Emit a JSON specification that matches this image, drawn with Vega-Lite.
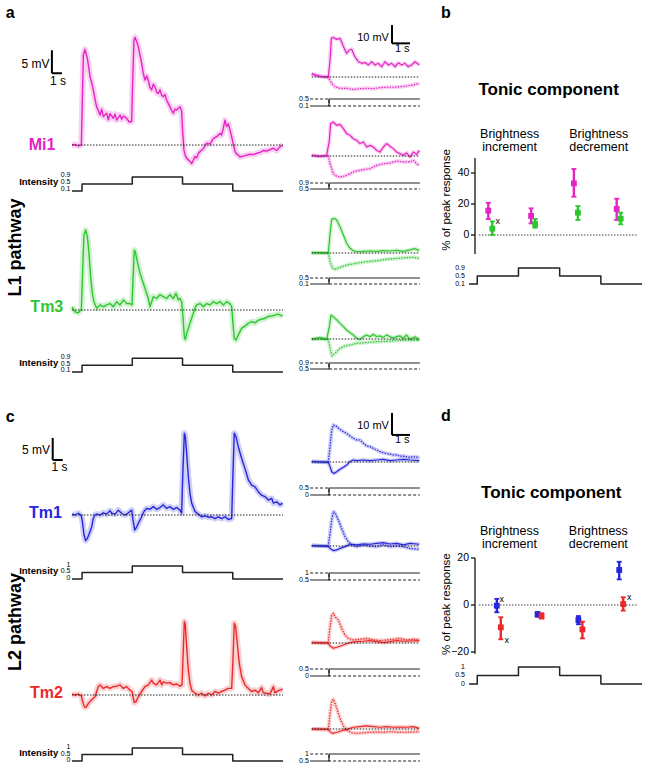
{
"$schema":"https://vega.github.io/schema/vega-lite/v6.json",
"padding":0,
"background":"white",
"config":{"view":{"stroke":null},"font":"Liberation Sans","mark":{"color":"#000"},"text":{"color":"#000"},"line":{"strokeJoin":"round","strokeCap":"butt"},"axis":{"disable":true},"concat":{"spacing":0}},
"datasets":{
"Mi1":[{"t":0,"mV":0},{"t":0.3,"mV":0.1},{"t":0.63,"mV":-0.2},{"t":0.93,"mV":0},{"t":1.03,"mV":10},{"t":1.13,"mV":19.5},{"t":1.29,"mV":20.8},{"t":1.53,"mV":18.8},{"t":1.66,"mV":17},{"t":1.79,"mV":14.9},{"t":1.96,"mV":13.5},{"t":2.12,"mV":12},{"t":2.29,"mV":10},{"t":2.45,"mV":8.3},{"t":2.62,"mV":7.5},{"t":2.79,"mV":6.5},{"t":2.95,"mV":7.8},{"t":3.12,"mV":6.2},{"t":3.45,"mV":6.9},{"t":3.62,"mV":5.5},{"t":3.78,"mV":6.8},{"t":4.11,"mV":5.8},{"t":4.28,"mV":6.7},{"t":4.44,"mV":5.4},{"t":4.78,"mV":6.5},{"t":4.94,"mV":5.6},{"t":5.11,"mV":6.3},{"t":5.44,"mV":5.8},{"t":5.7,"mV":5},{"t":5.94,"mV":5.1},{"t":6.04,"mV":14},{"t":6.17,"mV":22.8},{"t":6.27,"mV":23.4},{"t":6.43,"mV":22.5},{"t":6.6,"mV":21.4},{"t":6.77,"mV":19.5},{"t":6.93,"mV":17.8},{"t":7.1,"mV":15.5},{"t":7.26,"mV":14.1},{"t":7.43,"mV":15},{"t":7.6,"mV":14},{"t":7.76,"mV":12.5},{"t":7.93,"mV":12},{"t":8.09,"mV":13.2},{"t":8.26,"mV":12.7},{"t":8.42,"mV":11.5},{"t":8.59,"mV":11.2},{"t":8.76,"mV":12},{"t":8.92,"mV":10.8},{"t":9.09,"mV":10.5},{"t":9.25,"mV":11},{"t":9.42,"mV":9.8},{"t":9.59,"mV":9},{"t":9.75,"mV":8.3},{"t":9.92,"mV":7.5},{"t":10.08,"mV":6.9},{"t":10.25,"mV":7.8},{"t":10.41,"mV":7.6},{"t":10.58,"mV":8},{"t":10.75,"mV":8.3},{"t":10.91,"mV":7.4},{"t":11.01,"mV":3},{"t":11.14,"mV":-1.1},{"t":11.28,"mV":-2.3},{"t":11.41,"mV":-2.9},{"t":11.58,"mV":-3.2},{"t":11.74,"mV":-3.6},{"t":11.91,"mV":-4},{"t":12.07,"mV":-3.3},{"t":12.24,"mV":-2.5},{"t":12.4,"mV":-2.8},{"t":12.57,"mV":-1.9},{"t":12.74,"mV":-1.4},{"t":13.07,"mV":-0.8},{"t":13.4,"mV":0.4},{"t":13.73,"mV":0.2},{"t":14.06,"mV":1.4},{"t":14.39,"mV":1.8},{"t":14.73,"mV":2.5},{"t":14.89,"mV":2.2},{"t":15.06,"mV":3.6},{"t":15.22,"mV":5.4},{"t":15.39,"mV":4},{"t":15.56,"mV":4.6},{"t":15.72,"mV":3.3},{"t":15.89,"mV":1.8},{"t":16.02,"mV":0.5},{"t":16.22,"mV":-1.4},{"t":16.39,"mV":-2},{"t":16.55,"mV":-2.2},{"t":16.72,"mV":-2.6},{"t":17.05,"mV":-2.4},{"t":17.38,"mV":-2.2},{"t":17.71,"mV":-2},{"t":18.04,"mV":-2.1},{"t":18.37,"mV":-1.8},{"t":18.71,"mV":-1.6},{"t":19.04,"mV":-1.2},{"t":19.37,"mV":-1.3},{"t":19.7,"mV":-1},{"t":20.04,"mV":-0.7},{"t":20.37,"mV":-1.2},{"t":20.7,"mV":-0.4},{"t":20.96,"mV":0}],
"Tm3":[{"t":0,"mV":0.7},{"t":0.3,"mV":-0.4},{"t":0.63,"mV":-0.6},{"t":0.93,"mV":0.1},{"t":1.06,"mV":8.7},{"t":1.19,"mV":16.3},{"t":1.36,"mV":17.4},{"t":1.53,"mV":15.9},{"t":1.69,"mV":12.3},{"t":1.86,"mV":7.2},{"t":2.02,"mV":3.6},{"t":2.19,"mV":1.8},{"t":2.45,"mV":0.4},{"t":2.79,"mV":1.1},{"t":3.12,"mV":0.7},{"t":3.45,"mV":1.1},{"t":3.78,"mV":1.4},{"t":4.11,"mV":0.7},{"t":4.44,"mV":1.8},{"t":4.78,"mV":1.1},{"t":5.11,"mV":2.2},{"t":5.44,"mV":1.4},{"t":5.77,"mV":1.4},{"t":5.97,"mV":1.1},{"t":6.07,"mV":6.5},{"t":6.2,"mV":13},{"t":6.3,"mV":12.7},{"t":6.5,"mV":10.5},{"t":6.77,"mV":8},{"t":7.1,"mV":5.8},{"t":7.43,"mV":3.6},{"t":7.6,"mV":2.5},{"t":7.76,"mV":0.7},{"t":7.93,"mV":1.8},{"t":8.09,"mV":2.9},{"t":8.42,"mV":2.5},{"t":8.76,"mV":3.3},{"t":9.09,"mV":2.9},{"t":9.42,"mV":2.5},{"t":9.75,"mV":3.3},{"t":10.08,"mV":2.5},{"t":10.35,"mV":3.6},{"t":10.58,"mV":2.2},{"t":10.75,"mV":2.5},{"t":10.91,"mV":1.8},{"t":11.04,"mV":-1.4},{"t":11.18,"mV":-5.8},{"t":11.28,"mV":-6.4},{"t":11.41,"mV":-5.1},{"t":11.74,"mV":-2.9},{"t":12.07,"mV":-0.7},{"t":12.24,"mV":0.4},{"t":12.4,"mV":1.1},{"t":12.74,"mV":1.4},{"t":13.07,"mV":0.7},{"t":13.4,"mV":1.4},{"t":13.73,"mV":1.1},{"t":14.06,"mV":1.8},{"t":14.39,"mV":1.4},{"t":14.73,"mV":1.8},{"t":15.06,"mV":1.1},{"t":15.39,"mV":1.8},{"t":15.72,"mV":1.4},{"t":15.89,"mV":0.7},{"t":16.02,"mV":-2.9},{"t":16.15,"mV":-6.2},{"t":16.32,"mV":-6.5},{"t":16.55,"mV":-5.4},{"t":16.88,"mV":-4},{"t":17.21,"mV":-3.5},{"t":17.55,"mV":-2.9},{"t":17.88,"mV":-2.5},{"t":18.21,"mV":-2.8},{"t":18.54,"mV":-2.2},{"t":18.87,"mV":-2},{"t":19.2,"mV":-1.8},{"t":19.54,"mV":-1.4},{"t":19.87,"mV":-1.3},{"t":20.2,"mV":-1.1},{"t":20.53,"mV":-0.9},{"t":20.96,"mV":-1.4}],
"Tm1":[{"t":0,"mV":0.2},{"t":0.3,"mV":0},{"t":0.63,"mV":0.4},{"t":0.93,"mV":-0.2},{"t":1.06,"mV":-1.9},{"t":1.19,"mV":-4.5},{"t":1.36,"mV":-5.8},{"t":1.53,"mV":-5.3},{"t":1.72,"mV":-4.2},{"t":1.96,"mV":-2.7},{"t":2.12,"mV":-0.8},{"t":2.29,"mV":0},{"t":2.45,"mV":0.2},{"t":2.79,"mV":0},{"t":3.12,"mV":0.5},{"t":3.45,"mV":0.2},{"t":3.78,"mV":1},{"t":3.95,"mV":0.4},{"t":4.28,"mV":0.2},{"t":4.61,"mV":1.1},{"t":4.94,"mV":0.4},{"t":5.27,"mV":0},{"t":5.61,"mV":0.5},{"t":5.94,"mV":1.1},{"t":6.07,"mV":-1.1},{"t":6.24,"mV":-3.4},{"t":6.37,"mV":-3},{"t":6.6,"mV":-1.9},{"t":6.93,"mV":-0.4},{"t":7.16,"mV":0.8},{"t":7.43,"mV":1.5},{"t":7.76,"mV":1.3},{"t":8.09,"mV":1.9},{"t":8.42,"mV":1.3},{"t":8.76,"mV":1.7},{"t":9.09,"mV":2.3},{"t":9.42,"mV":1.5},{"t":9.75,"mV":1.9},{"t":10.08,"mV":1.3},{"t":10.41,"mV":1.7},{"t":10.75,"mV":1.1},{"t":10.91,"mV":0.4},{"t":11.04,"mV":10.2},{"t":11.18,"mV":18.6},{"t":11.28,"mV":17.8},{"t":11.41,"mV":14},{"t":11.58,"mV":8.7},{"t":11.74,"mV":4.9},{"t":11.91,"mV":2.7},{"t":12.24,"mV":0.8},{"t":12.57,"mV":0.2},{"t":12.9,"mV":-0.4},{"t":13.23,"mV":-0.2},{"t":13.57,"mV":-0.5},{"t":13.9,"mV":-0.4},{"t":14.23,"mV":-0.8},{"t":14.56,"mV":-0.4},{"t":14.89,"mV":-0.8},{"t":15.22,"mV":-0.4},{"t":15.56,"mV":-1},{"t":15.89,"mV":-0.8},{"t":16.02,"mV":9.5},{"t":16.15,"mV":18.6},{"t":16.32,"mV":17.8},{"t":16.55,"mV":15.5},{"t":16.88,"mV":12.9},{"t":17.21,"mV":10.6},{"t":17.55,"mV":8},{"t":17.88,"mV":6.8},{"t":18.21,"mV":6.4},{"t":18.54,"mV":5.3},{"t":18.87,"mV":4.5},{"t":19.2,"mV":4.2},{"t":19.54,"mV":3.4},{"t":19.87,"mV":3.8},{"t":20.04,"mV":2.7},{"t":20.37,"mV":3},{"t":20.7,"mV":2.3},{"t":20.96,"mV":2.7}],
"Tm2":[{"t":0,"mV":0.2},{"t":0.3,"mV":0},{"t":0.63,"mV":0.2},{"t":0.93,"mV":-0.2},{"t":1.06,"mV":-1.5},{"t":1.23,"mV":-2.7},{"t":1.39,"mV":-2.8},{"t":1.63,"mV":-1.9},{"t":1.96,"mV":-1.1},{"t":2.29,"mV":-0.4},{"t":2.45,"mV":0.8},{"t":2.62,"mV":1.9},{"t":2.79,"mV":2.3},{"t":3.12,"mV":1.5},{"t":3.45,"mV":1.9},{"t":3.78,"mV":1.5},{"t":4.11,"mV":1.9},{"t":4.44,"mV":2},{"t":4.78,"mV":2.3},{"t":5.11,"mV":1.5},{"t":5.44,"mV":1.9},{"t":5.77,"mV":1.1},{"t":5.97,"mV":0.8},{"t":6.07,"mV":-0.4},{"t":6.2,"mV":-1.7},{"t":6.37,"mV":-1.5},{"t":6.6,"mV":-0.4},{"t":6.93,"mV":0.8},{"t":7.26,"mV":1.9},{"t":7.6,"mV":2.3},{"t":7.93,"mV":3.4},{"t":8.09,"mV":2.7},{"t":8.42,"mV":2.3},{"t":8.76,"mV":3.4},{"t":8.92,"mV":2.3},{"t":9.09,"mV":3},{"t":9.42,"mV":2.7},{"t":9.75,"mV":2.8},{"t":10.08,"mV":2.3},{"t":10.41,"mV":2.5},{"t":10.75,"mV":2},{"t":10.95,"mV":2.3},{"t":11.04,"mV":8},{"t":11.18,"mV":16.7},{"t":11.28,"mV":15.9},{"t":11.41,"mV":11},{"t":11.58,"mV":5.7},{"t":11.74,"mV":2.7},{"t":11.91,"mV":1.1},{"t":12.24,"mV":0.4},{"t":12.57,"mV":0},{"t":12.9,"mV":0.4},{"t":13.23,"mV":-0.2},{"t":13.57,"mV":0.4},{"t":13.9,"mV":0},{"t":14.23,"mV":0.8},{"t":14.56,"mV":0.4},{"t":14.89,"mV":0.8},{"t":15.22,"mV":1.1},{"t":15.56,"mV":1.5},{"t":15.89,"mV":1.5},{"t":16.02,"mV":8},{"t":16.15,"mV":16.3},{"t":16.28,"mV":15.5},{"t":16.45,"mV":11.7},{"t":16.65,"mV":7.2},{"t":16.88,"mV":4.2},{"t":17.21,"mV":2.3},{"t":17.55,"mV":1.5},{"t":17.88,"mV":0.8},{"t":18.21,"mV":1.1},{"t":18.54,"mV":0.5},{"t":18.87,"mV":1.7},{"t":19.04,"mV":0.5},{"t":19.37,"mV":0.4},{"t":19.7,"mV":0.2},{"t":20.04,"mV":1.9},{"t":20.2,"mV":0.5},{"t":20.53,"mV":1},{"t":20.96,"mV":1.3}],
"stim_a":[{"t":0,"level":0.1},{"t":1,"level":0.5},{"t":6,"level":0.9},{"t":11,"level":0.5},{"t":16,"level":0.1},{"t":21,"level":0.1}],
"stim_b":[{"t":0,"level":0},{"t":1,"level":0.5},{"t":6,"level":1},{"t":11,"level":0.5},{"t":16,"level":0},{"t":21,"level":0}],
"step_01_05":[{"stim":"increment","t":-1.05,"level":0.1},{"stim":"increment","t":0,"level":0.5},{"stim":"increment","t":5.05,"level":0.5},{"stim":"decrement","t":-1.05,"level":0.5},{"stim":"decrement","t":0,"level":0.1},{"stim":"decrement","t":5.05,"level":0.1}],
"step_05_09":[{"stim":"increment","t":-1.05,"level":0.5},{"stim":"increment","t":0,"level":0.9},{"stim":"increment","t":5.05,"level":0.9},{"stim":"decrement","t":-1.05,"level":0.9},{"stim":"decrement","t":0,"level":0.5},{"stim":"decrement","t":5.05,"level":0.5}],
"step_0_05":[{"stim":"increment","t":-1.05,"level":0},{"stim":"increment","t":0,"level":0.5},{"stim":"increment","t":5.05,"level":0.5},{"stim":"decrement","t":-1.05,"level":0.5},{"stim":"decrement","t":0,"level":0},{"stim":"decrement","t":5.05,"level":0}],
"step_05_1":[{"stim":"increment","t":-1.05,"level":0.5},{"stim":"increment","t":0,"level":1},{"stim":"increment","t":5.05,"level":1},{"stim":"decrement","t":-1.05,"level":1},{"stim":"decrement","t":0,"level":0.5},{"stim":"decrement","t":5.05,"level":0.5}],
"Mi1_low":[{"stim":"increment","t":-0.96,"mV":1.8},{"stim":"increment","t":-0.78,"mV":1},{"stim":"increment","t":-0.5,"mV":0.4},{"stim":"increment","t":-0.22,"mV":0.2},{"stim":"increment","t":-0.04,"mV":-0.2},{"stim":"increment","t":0.06,"mV":9.4},{"stim":"increment","t":0.13,"mV":21.5},{"stim":"increment","t":0.24,"mV":22},{"stim":"increment","t":0.43,"mV":20.9},{"stim":"increment","t":0.61,"mV":21.5},{"stim":"increment","t":0.7,"mV":19.6},{"stim":"increment","t":0.8,"mV":16.9},{"stim":"increment","t":0.98,"mV":13.1},{"stim":"increment","t":1.13,"mV":15},{"stim":"increment","t":1.26,"mV":15.4},{"stim":"increment","t":1.44,"mV":11.3},{"stim":"increment","t":1.63,"mV":8.5},{"stim":"increment","t":1.81,"mV":7.6},{"stim":"increment","t":2,"mV":8},{"stim":"increment","t":2.19,"mV":6.7},{"stim":"increment","t":2.37,"mV":8.5},{"stim":"increment","t":2.56,"mV":6.7},{"stim":"increment","t":2.74,"mV":7.6},{"stim":"increment","t":2.93,"mV":5.7},{"stim":"increment","t":3.11,"mV":8.5},{"stim":"increment","t":3.3,"mV":6.7},{"stim":"increment","t":3.48,"mV":7.6},{"stim":"increment","t":3.67,"mV":5.7},{"stim":"increment","t":3.85,"mV":7.9},{"stim":"increment","t":4.04,"mV":6.7},{"stim":"increment","t":4.22,"mV":7.6},{"stim":"increment","t":4.41,"mV":5.7},{"stim":"increment","t":4.59,"mV":6.7},{"stim":"increment","t":4.78,"mV":8.5},{"stim":"increment","t":5.02,"mV":6.7},{"stim":"decrement","t":-0.96,"mV":1.8},{"stim":"decrement","t":-0.5,"mV":0.4},{"stim":"decrement","t":-0.04,"mV":-0.2},{"stim":"decrement","t":0.15,"mV":-3.5},{"stim":"decrement","t":0.33,"mV":-5.4},{"stim":"decrement","t":0.61,"mV":-6.3},{"stim":"decrement","t":0.98,"mV":-6.3},{"stim":"decrement","t":1.35,"mV":-6.9},{"stim":"decrement","t":1.72,"mV":-6.5},{"stim":"decrement","t":2.09,"mV":-6.3},{"stim":"decrement","t":2.46,"mV":-6.5},{"stim":"decrement","t":2.83,"mV":-5.9},{"stim":"decrement","t":3.2,"mV":-5.7},{"stim":"decrement","t":3.57,"mV":-5.7},{"stim":"decrement","t":3.94,"mV":-5.4},{"stim":"decrement","t":4.31,"mV":-5},{"stim":"decrement","t":4.69,"mV":-4.4},{"stim":"decrement","t":5.02,"mV":-3.5}],
"Mi1_high":[{"stim":"increment","t":-0.96,"mV":0.4},{"stim":"increment","t":-0.5,"mV":-0.2},{"stim":"increment","t":-0.13,"mV":0.4},{"stim":"increment","t":0.02,"mV":8.7},{"stim":"increment","t":0.09,"mV":18},{"stim":"increment","t":0.24,"mV":18.9},{"stim":"increment","t":0.43,"mV":17},{"stim":"increment","t":0.61,"mV":17.6},{"stim":"increment","t":0.8,"mV":15.2},{"stim":"increment","t":0.98,"mV":12.4},{"stim":"increment","t":1.17,"mV":11.5},{"stim":"increment","t":1.35,"mV":9.6},{"stim":"increment","t":1.54,"mV":8.7},{"stim":"increment","t":1.72,"mV":6.9},{"stim":"increment","t":1.91,"mV":7.8},{"stim":"increment","t":2.09,"mV":5},{"stim":"increment","t":2.28,"mV":5.9},{"stim":"increment","t":2.46,"mV":5},{"stim":"increment","t":2.65,"mV":3.1},{"stim":"increment","t":2.83,"mV":2.2},{"stim":"increment","t":3.02,"mV":5},{"stim":"increment","t":3.2,"mV":6.9},{"stim":"increment","t":3.39,"mV":5.4},{"stim":"increment","t":3.57,"mV":4.1},{"stim":"increment","t":3.76,"mV":2.2},{"stim":"increment","t":3.94,"mV":1.3},{"stim":"increment","t":4.13,"mV":0.4},{"stim":"increment","t":4.31,"mV":1.7},{"stim":"increment","t":4.5,"mV":-0.6},{"stim":"increment","t":4.69,"mV":2.2},{"stim":"increment","t":4.87,"mV":0.9},{"stim":"increment","t":5.02,"mV":3.1},{"stim":"decrement","t":-0.96,"mV":0.4},{"stim":"decrement","t":-0.5,"mV":-0.2},{"stim":"decrement","t":-0.04,"mV":0},{"stim":"decrement","t":0.06,"mV":-4.3},{"stim":"decrement","t":0.24,"mV":-9.8},{"stim":"decrement","t":0.43,"mV":-11.3},{"stim":"decrement","t":0.61,"mV":-11.7},{"stim":"decrement","t":0.8,"mV":-11.3},{"stim":"decrement","t":0.98,"mV":-10.7},{"stim":"decrement","t":1.17,"mV":-9.8},{"stim":"decrement","t":1.35,"mV":-8.9},{"stim":"decrement","t":1.54,"mV":-8.3},{"stim":"decrement","t":1.91,"mV":-7.6},{"stim":"decrement","t":2.28,"mV":-7},{"stim":"decrement","t":2.65,"mV":-5.2},{"stim":"decrement","t":3.02,"mV":-4.3},{"stim":"decrement","t":3.39,"mV":-3.9},{"stim":"decrement","t":3.76,"mV":-2.8},{"stim":"decrement","t":4.13,"mV":-3.3},{"stim":"decrement","t":4.5,"mV":-3.3},{"stim":"decrement","t":4.69,"mV":-2.4},{"stim":"decrement","t":4.87,"mV":-4.3},{"stim":"decrement","t":5.02,"mV":-5.2}],
"Tm3_low":[{"stim":"increment","t":-0.96,"mV":0.2},{"stim":"increment","t":-0.5,"mV":0.2},{"stim":"increment","t":-0.04,"mV":0},{"stim":"increment","t":0.06,"mV":10.9},{"stim":"increment","t":0.15,"mV":18.7},{"stim":"increment","t":0.28,"mV":19.3},{"stim":"increment","t":0.43,"mV":18.3},{"stim":"increment","t":0.61,"mV":14.6},{"stim":"increment","t":0.8,"mV":10},{"stim":"increment","t":0.98,"mV":5.4},{"stim":"increment","t":1.17,"mV":2.6},{"stim":"increment","t":1.35,"mV":1.3},{"stim":"increment","t":1.54,"mV":0.7},{"stim":"increment","t":1.91,"mV":0.9},{"stim":"increment","t":2.28,"mV":1.1},{"stim":"increment","t":2.65,"mV":0.9},{"stim":"increment","t":3.02,"mV":1.3},{"stim":"increment","t":3.39,"mV":1.1},{"stim":"increment","t":3.76,"mV":1.5},{"stim":"increment","t":4.13,"mV":0.9},{"stim":"increment","t":4.5,"mV":1.7},{"stim":"increment","t":4.78,"mV":2.4},{"stim":"increment","t":5.02,"mV":1.3},{"stim":"decrement","t":-0.96,"mV":0.2},{"stim":"decrement","t":-0.04,"mV":0},{"stim":"decrement","t":0.06,"mV":-4.8},{"stim":"decrement","t":0.2,"mV":-8.5},{"stim":"decrement","t":0.33,"mV":-9.1},{"stim":"decrement","t":0.61,"mV":-8},{"stim":"decrement","t":0.98,"mV":-6.7},{"stim":"decrement","t":1.54,"mV":-5.7},{"stim":"decrement","t":2.09,"mV":-4.8},{"stim":"decrement","t":2.65,"mV":-4.3},{"stim":"decrement","t":3.2,"mV":-3.5},{"stim":"decrement","t":3.76,"mV":-3},{"stim":"decrement","t":4.31,"mV":-2.6},{"stim":"decrement","t":4.69,"mV":-2.4},{"stim":"decrement","t":5.02,"mV":-3}],
"Tm3_high":[{"stim":"increment","t":-0.96,"mV":-0.2},{"stim":"increment","t":-0.5,"mV":0.9},{"stim":"increment","t":-0.13,"mV":-0.2},{"stim":"increment","t":0.02,"mV":6.9},{"stim":"increment","t":0.11,"mV":13.3},{"stim":"increment","t":0.24,"mV":12.4},{"stim":"increment","t":0.43,"mV":10.6},{"stim":"increment","t":0.61,"mV":8.7},{"stim":"increment","t":0.8,"mV":6.9},{"stim":"increment","t":0.98,"mV":5},{"stim":"increment","t":1.17,"mV":3.5},{"stim":"increment","t":1.35,"mV":2.2},{"stim":"increment","t":1.54,"mV":0.4},{"stim":"increment","t":1.72,"mV":-0.2},{"stim":"increment","t":1.91,"mV":1.3},{"stim":"increment","t":2.09,"mV":2.2},{"stim":"increment","t":2.28,"mV":1.3},{"stim":"increment","t":2.46,"mV":2.6},{"stim":"increment","t":2.65,"mV":1.3},{"stim":"increment","t":2.83,"mV":1.7},{"stim":"increment","t":3.02,"mV":0.9},{"stim":"increment","t":3.2,"mV":2.2},{"stim":"increment","t":3.39,"mV":1.3},{"stim":"increment","t":3.57,"mV":0.4},{"stim":"increment","t":3.76,"mV":1.3},{"stim":"increment","t":3.94,"mV":1.7},{"stim":"increment","t":4.13,"mV":0.4},{"stim":"increment","t":4.31,"mV":2.2},{"stim":"increment","t":4.5,"mV":-0.2},{"stim":"increment","t":4.78,"mV":1.3},{"stim":"increment","t":5.02,"mV":-0.6},{"stim":"decrement","t":-0.96,"mV":-0.2},{"stim":"decrement","t":-0.04,"mV":-0.2},{"stim":"decrement","t":0.06,"mV":-5.2},{"stim":"decrement","t":0.17,"mV":-9.4},{"stim":"decrement","t":0.33,"mV":-8},{"stim":"decrement","t":0.61,"mV":-5.2},{"stim":"decrement","t":0.89,"mV":-3.9},{"stim":"decrement","t":1.17,"mV":-3.3},{"stim":"decrement","t":1.54,"mV":-2.4},{"stim":"decrement","t":2.09,"mV":-2},{"stim":"decrement","t":2.65,"mV":-1.5},{"stim":"decrement","t":3.2,"mV":-1.3},{"stim":"decrement","t":3.76,"mV":-0.9},{"stim":"decrement","t":4.31,"mV":-0.6},{"stim":"decrement","t":5.02,"mV":-0.6}],
"Tm1_low":[{"stim":"decrement","t":-0.96,"mV":0.2},{"stim":"decrement","t":-0.5,"mV":0},{"stim":"decrement","t":-0.04,"mV":0},{"stim":"decrement","t":0.06,"mV":7},{"stim":"decrement","t":0.15,"mV":14.5},{"stim":"decrement","t":0.24,"mV":16.8},{"stim":"decrement","t":0.43,"mV":16.1},{"stim":"decrement","t":0.61,"mV":14.8},{"stim":"decrement","t":0.8,"mV":13.8},{"stim":"decrement","t":0.98,"mV":13},{"stim":"decrement","t":1.17,"mV":11.8},{"stim":"decrement","t":1.35,"mV":10.8},{"stim":"decrement","t":1.54,"mV":10},{"stim":"decrement","t":1.72,"mV":10},{"stim":"decrement","t":1.91,"mV":8.5},{"stim":"decrement","t":2.09,"mV":7.3},{"stim":"decrement","t":2.28,"mV":7},{"stim":"decrement","t":2.46,"mV":6.2},{"stim":"decrement","t":2.65,"mV":5.5},{"stim":"decrement","t":2.83,"mV":4.7},{"stim":"decrement","t":3.02,"mV":4.2},{"stim":"decrement","t":3.2,"mV":3.9},{"stim":"decrement","t":3.39,"mV":3.6},{"stim":"decrement","t":3.57,"mV":3.2},{"stim":"decrement","t":3.76,"mV":3.2},{"stim":"decrement","t":3.94,"mV":2.7},{"stim":"decrement","t":4.13,"mV":2.7},{"stim":"decrement","t":4.31,"mV":2.4},{"stim":"decrement","t":4.5,"mV":2.1},{"stim":"decrement","t":4.69,"mV":2.4},{"stim":"decrement","t":5.02,"mV":2.1},{"stim":"increment","t":-0.96,"mV":0.2},{"stim":"increment","t":-0.5,"mV":0},{"stim":"increment","t":-0.04,"mV":-0.2},{"stim":"increment","t":0.06,"mV":-2.1},{"stim":"increment","t":0.15,"mV":-4.4},{"stim":"increment","t":0.28,"mV":-5.2},{"stim":"increment","t":0.43,"mV":-4.4},{"stim":"increment","t":0.61,"mV":-3.3},{"stim":"increment","t":0.8,"mV":-2.4},{"stim":"increment","t":0.98,"mV":-1.4},{"stim":"increment","t":1.17,"mV":0.2},{"stim":"increment","t":1.35,"mV":0.9},{"stim":"increment","t":1.54,"mV":0.6},{"stim":"increment","t":1.91,"mV":0.9},{"stim":"increment","t":2.28,"mV":0.6},{"stim":"increment","t":2.65,"mV":0.9},{"stim":"increment","t":3.02,"mV":1.2},{"stim":"increment","t":3.39,"mV":0.6},{"stim":"increment","t":3.76,"mV":0.9},{"stim":"increment","t":4.13,"mV":1.2},{"stim":"increment","t":4.5,"mV":0.9},{"stim":"increment","t":5.02,"mV":0.6}],
"Tm1_high":[{"stim":"decrement","t":-0.96,"mV":0.2},{"stim":"decrement","t":-0.04,"mV":0},{"stim":"decrement","t":0.06,"mV":5.8},{"stim":"decrement","t":0.15,"mV":11.8},{"stim":"decrement","t":0.24,"mV":15.6},{"stim":"decrement","t":0.33,"mV":15.2},{"stim":"decrement","t":0.52,"mV":11.8},{"stim":"decrement","t":0.7,"mV":8},{"stim":"decrement","t":0.89,"mV":4.2},{"stim":"decrement","t":1.07,"mV":2},{"stim":"decrement","t":1.26,"mV":0.5},{"stim":"decrement","t":1.54,"mV":-0.3},{"stim":"decrement","t":1.91,"mV":0.5},{"stim":"decrement","t":2.28,"mV":0},{"stim":"decrement","t":2.65,"mV":-0.3},{"stim":"decrement","t":3.02,"mV":0.5},{"stim":"decrement","t":3.39,"mV":-0.3},{"stim":"decrement","t":3.76,"mV":0},{"stim":"decrement","t":4.13,"mV":-0.3},{"stim":"decrement","t":4.5,"mV":-1.1},{"stim":"decrement","t":5.02,"mV":-1.5},{"stim":"increment","t":-0.96,"mV":0.2},{"stim":"increment","t":-0.04,"mV":-0.2},{"stim":"increment","t":0.06,"mV":-1.1},{"stim":"increment","t":0.24,"mV":-2.1},{"stim":"increment","t":0.43,"mV":-1.8},{"stim":"increment","t":0.61,"mV":-1.1},{"stim":"increment","t":0.89,"mV":-0.3},{"stim":"increment","t":1.17,"mV":0.8},{"stim":"increment","t":1.54,"mV":0.5},{"stim":"increment","t":1.91,"mV":0.9},{"stim":"increment","t":2.28,"mV":0.8},{"stim":"increment","t":2.65,"mV":1.2},{"stim":"increment","t":3.02,"mV":1.5},{"stim":"increment","t":3.39,"mV":0.9},{"stim":"increment","t":3.76,"mV":1.2},{"stim":"increment","t":4.13,"mV":0.5},{"stim":"increment","t":4.5,"mV":1.2},{"stim":"increment","t":5.02,"mV":0.8}],
"Tm2_low":[{"stim":"decrement","t":-0.96,"mV":0.2},{"stim":"decrement","t":-0.04,"mV":0},{"stim":"decrement","t":0.06,"mV":7.4},{"stim":"decrement","t":0.15,"mV":12.7},{"stim":"decrement","t":0.24,"mV":13.5},{"stim":"decrement","t":0.33,"mV":12},{"stim":"decrement","t":0.52,"mV":10.5},{"stim":"decrement","t":0.7,"mV":6.7},{"stim":"decrement","t":0.89,"mV":3.6},{"stim":"decrement","t":1.07,"mV":2.1},{"stim":"decrement","t":1.35,"mV":1.4},{"stim":"decrement","t":1.72,"mV":1.7},{"stim":"decrement","t":2.09,"mV":2.1},{"stim":"decrement","t":2.46,"mV":1.4},{"stim":"decrement","t":2.83,"mV":1.1},{"stim":"decrement","t":3.2,"mV":1.4},{"stim":"decrement","t":3.57,"mV":1.7},{"stim":"decrement","t":3.94,"mV":2.1},{"stim":"decrement","t":4.31,"mV":1.4},{"stim":"decrement","t":4.69,"mV":1.7},{"stim":"decrement","t":5.02,"mV":1.4},{"stim":"increment","t":-0.96,"mV":0.2},{"stim":"increment","t":-0.04,"mV":0},{"stim":"increment","t":0.06,"mV":-1.4},{"stim":"increment","t":0.24,"mV":-2.4},{"stim":"increment","t":0.52,"mV":-1.7},{"stim":"increment","t":0.8,"mV":-0.9},{"stim":"increment","t":1.17,"mV":0.2},{"stim":"increment","t":1.54,"mV":0.6},{"stim":"increment","t":1.91,"mV":0.8},{"stim":"increment","t":2.28,"mV":1.1},{"stim":"increment","t":2.65,"mV":0.6},{"stim":"increment","t":3.02,"mV":0.2},{"stim":"increment","t":3.39,"mV":0.6},{"stim":"increment","t":3.76,"mV":1.1},{"stim":"increment","t":4.13,"mV":0.8},{"stim":"increment","t":4.5,"mV":0.9},{"stim":"increment","t":5.02,"mV":1.1}],
"Tm2_high":[{"stim":"decrement","t":-0.96,"mV":0},{"stim":"decrement","t":-0.04,"mV":-0.2},{"stim":"decrement","t":0.06,"mV":7.1},{"stim":"decrement","t":0.15,"mV":12.4},{"stim":"decrement","t":0.24,"mV":13.5},{"stim":"decrement","t":0.33,"mV":11.7},{"stim":"decrement","t":0.46,"mV":8.6},{"stim":"decrement","t":0.61,"mV":4.8},{"stim":"decrement","t":0.8,"mV":1.4},{"stim":"decrement","t":0.98,"mV":-0.5},{"stim":"decrement","t":1.26,"mV":-1.7},{"stim":"decrement","t":1.54,"mV":-2},{"stim":"decrement","t":1.91,"mV":-1.7},{"stim":"decrement","t":2.28,"mV":-1.5},{"stim":"decrement","t":2.65,"mV":-1.4},{"stim":"decrement","t":3.02,"mV":-1.5},{"stim":"decrement","t":3.39,"mV":-1.2},{"stim":"decrement","t":3.76,"mV":-1.4},{"stim":"decrement","t":4.13,"mV":-1.5},{"stim":"decrement","t":4.5,"mV":-1.4},{"stim":"decrement","t":5.02,"mV":-1.2},{"stim":"increment","t":-0.96,"mV":0},{"stim":"increment","t":-0.04,"mV":-0.2},{"stim":"increment","t":0.06,"mV":-1.2},{"stim":"increment","t":0.2,"mV":-2},{"stim":"increment","t":0.43,"mV":-1.5},{"stim":"increment","t":0.7,"mV":-0.8},{"stim":"increment","t":0.98,"mV":-0.2},{"stim":"increment","t":1.35,"mV":0.8},{"stim":"increment","t":1.72,"mV":1.1},{"stim":"increment","t":2.09,"mV":1.4},{"stim":"increment","t":2.46,"mV":1.1},{"stim":"increment","t":2.83,"mV":0.8},{"stim":"increment","t":3.2,"mV":1.1},{"stim":"increment","t":3.57,"mV":0.8},{"stim":"increment","t":3.94,"mV":0.9},{"stim":"increment","t":4.31,"mV":0.8},{"stim":"increment","t":4.69,"mV":1.1},{"stim":"increment","t":5.02,"mV":0.3}],
"tonic_L1":[{"cell":"Mi1","cond":1,"mean":15.7,"lo":10.3,"hi":20.8},{"cell":"Tm3","cond":1,"mean":4.1,"lo":0,"hi":8.8,"sig_at":9.2},{"cell":"Mi1","cond":2,"mean":12.3,"lo":7.5,"hi":17.2},{"cell":"Tm3","cond":2,"mean":7.1,"lo":4.7,"hi":10.3},{"cell":"Mi1","cond":3,"mean":33.3,"lo":24.7,"hi":42.6},{"cell":"Tm3","cond":3,"mean":14.4,"lo":9.7,"hi":18.7},{"cell":"Mi1","cond":4,"mean":16.8,"lo":9.7,"hi":23.4},{"cell":"Tm3","cond":4,"mean":10.5,"lo":6.9,"hi":14.4}],
"tonic_L2":[{"cell":"Tm1","cond":1,"mean":-0.3,"lo":-3.1,"hi":2.6,"sig_at":2.6},{"cell":"Tm2","cond":1,"mean":-9.5,"lo":-14.6,"hi":-5.2,"sig_at":-14.9},{"cell":"Tm1","cond":2,"mean":-4,"lo":-5,"hi":-3},{"cell":"Tm2","cond":2,"mean":-4.7,"lo":-5.8,"hi":-3.5},{"cell":"Tm1","cond":3,"mean":-6.4,"lo":-8.2,"hi":-4.7},{"cell":"Tm2","cond":3,"mean":-10.4,"lo":-14.2,"hi":-7.1},{"cell":"Tm1","cond":4,"mean":14.9,"lo":10.9,"hi":18.4},{"cell":"Tm2","cond":4,"mean":0.4,"lo":-2.4,"hi":3.3,"sig_at":3.4}]
},
"spacing":0,
"hconcat":[
{"spacing":0,"bounds":"flush","vconcat":[
 {"width":290,"height":170,"layer":[
  {"data":{"name":"Mi1"},"mark":{"type":"line","color":"#e524c4","strokeWidth":6,"opacity":0.22},"encoding":{"x":{"field":"t","type":"quantitative","scale":{"domain":[-7.166,21.696],"nice":false,"zero":false}},"y":{"field":"mV","type":"quantitative","scale":{"domain":[-5.43,31.52],"nice":false,"zero":false}}}},
  {"data":{"name":"Mi1"},"mark":{"type":"line","color":"#e524c4","strokeWidth":1.4},"encoding":{"x":{"field":"t","type":"quantitative"},"y":{"field":"mV","type":"quantitative"}}},
  {"data":{"values":[{}]},"mark":{"type":"rule","color":"#222","strokeWidth":1,"strokeDash":[1.5,1.5]},"encoding":{"x":{"datum":0},"x2":{"datum":21},"y":{"datum":0}}},
  {"data":{"values":[{}]},"mark":{"type":"rule","color":"#000","strokeWidth":2},"encoding":{"x":{"datum":-2},"y":{"datum":15.6},"y2":{"datum":20.6}}},
  {"data":{"values":[{}]},"mark":{"type":"rule","color":"#000","strokeWidth":2},"encoding":{"x":{"datum":-2},"x2":{"datum":-1},"y":{"datum":15.6}}},
  {"data":{"values":[{}]},"mark":{"type":"text","text":"5 mV","align":"right","baseline":"middle","fontSize":12},"encoding":{"x":{"datum":-2.25},"y":{"datum":17.7}}},
  {"data":{"values":[{}]},"mark":{"type":"text","text":"1 s","align":"center","baseline":"middle","fontSize":12},"encoding":{"x":{"datum":-1.4},"y":{"datum":14.0}}},
  {"data":{"values":[{}]},"mark":{"type":"text","text":"a","align":"left","baseline":"middle","fontSize":16,"fontWeight":"bold"},"encoding":{"x":{"datum":-6.6},"y":{"datum":28.6}}},
  {"data":{"values":[{}]},"mark":{"type":"text","text":"Mi1","align":"right","baseline":"middle","fontSize":16,"fontWeight":"bold","color":"#e524c4"},"encoding":{"x":{"datum":-1.65},"y":{"datum":0}}}
 ]},
 {"width":290,"height":27,"layer":[
  {"data":{"name":"stim_a"},"mark":{"type":"line","interpolate":"step-after","color":"#222","strokeWidth":1.5},"encoding":{"x":{"field":"t","type":"quantitative","scale":{"domain":[-7.166,21.696],"nice":false,"zero":false}},"y":{"field":"level","type":"quantitative","scale":{"domain":[-0.243,1.3],"nice":false,"zero":false}}}},
  {"data":{"name":"stim_a"},"transform":[{"aggregate":[{"op":"count","as":"n"}],"groupby":["level"]}],"mark":{"type":"text","align":"right","baseline":"middle","fontSize":7,"dy":-1.5},"encoding":{"x":{"datum":-0.15},"y":{"field":"level","type":"quantitative"},"text":{"field":"level","type":"quantitative","format":"~g"}}},
  {"data":{"values":[{}]},"mark":{"type":"text","text":"Intensity","align":"right","baseline":"middle","fontSize":9.5,"fontWeight":"bold"},"encoding":{"x":{"datum":-1.37},"y":{"datum":0.62}}}
 ]},
 {"width":290,"height":155,"layer":[
  {"data":{"name":"Tm3"},"mark":{"type":"line","color":"#2ec62e","strokeWidth":6,"opacity":0.22},"encoding":{"x":{"field":"t","type":"quantitative","scale":{"domain":[-7.166,21.696],"nice":false,"zero":false}},"y":{"field":"mV","type":"quantitative","scale":{"domain":[-9.13,24.57],"nice":false,"zero":false}}}},
  {"data":{"name":"Tm3"},"mark":{"type":"line","color":"#2ec62e","strokeWidth":1.4},"encoding":{"x":{"field":"t","type":"quantitative"},"y":{"field":"mV","type":"quantitative"}}},
  {"data":{"values":[{}]},"mark":{"type":"rule","color":"#222","strokeWidth":1,"strokeDash":[1.5,1.5]},"encoding":{"x":{"datum":0},"x2":{"datum":21},"y":{"datum":0}}},
  {"data":{"values":[{}]},"mark":{"type":"text","text":"Tm3","align":"right","baseline":"middle","fontSize":16,"fontWeight":"bold","color":"#2ec62e"},"encoding":{"x":{"datum":-0.87},"y":{"datum":0.7}}},
  {"data":{"values":[{}]},"mark":{"type":"text","text":"L1 pathway","align":"center","baseline":"middle","fontSize":18,"fontWeight":"bold","angle":270},"encoding":{"x":{"datum":-5.57},"y":{"datum":13.6}}}
 ]},
 {"width":290,"height":30,"layer":[
  {"data":{"name":"stim_a"},"mark":{"type":"line","interpolate":"step-after","color":"#222","strokeWidth":1.5},"encoding":{"x":{"field":"t","type":"quantitative","scale":{"domain":[-7.166,21.696],"nice":false,"zero":false}},"y":{"field":"level","type":"quantitative","scale":{"domain":[-0.485,1.268],"nice":false,"zero":false}}}},
  {"data":{"name":"stim_a"},"transform":[{"aggregate":[{"op":"count","as":"n"}],"groupby":["level"]}],"mark":{"type":"text","align":"right","baseline":"middle","fontSize":7,"dy":-1.5},"encoding":{"x":{"datum":-0.15},"y":{"field":"level","type":"quantitative"},"text":{"field":"level","type":"quantitative","format":"~g"}}},
  {"data":{"values":[{}]},"mark":{"type":"text","text":"Intensity","align":"right","baseline":"middle","fontSize":9.5,"fontWeight":"bold"},"encoding":{"x":{"datum":-1.37},"y":{"datum":0.62}}}
 ]},
 {"width":290,"height":173,"layer":[
  {"data":{"name":"Tm1"},"mark":{"type":"line","color":"#2626dc","strokeWidth":6,"opacity":0.22},"encoding":{"x":{"field":"t","type":"quantitative","scale":{"domain":[-7.166,21.696],"nice":false,"zero":false}},"y":{"field":"mV","type":"quantitative","scale":{"domain":[-9.09,30.23],"nice":false,"zero":false}}}},
  {"data":{"name":"Tm1"},"mark":{"type":"line","color":"#2626dc","strokeWidth":1.4},"encoding":{"x":{"field":"t","type":"quantitative"},"y":{"field":"mV","type":"quantitative"}}},
  {"data":{"values":[{}]},"mark":{"type":"rule","color":"#222","strokeWidth":1,"strokeDash":[1.5,1.5]},"encoding":{"x":{"datum":0},"x2":{"datum":21},"y":{"datum":0}}},
  {"data":{"values":[{}]},"mark":{"type":"rule","color":"#000","strokeWidth":2},"encoding":{"x":{"datum":-1.92},"y":{"datum":12.5},"y2":{"datum":17.5}}},
  {"data":{"values":[{}]},"mark":{"type":"rule","color":"#000","strokeWidth":2},"encoding":{"x":{"datum":-1.92},"x2":{"datum":-0.92},"y":{"datum":12.5}}},
  {"data":{"values":[{}]},"mark":{"type":"text","text":"5 mV","align":"right","baseline":"middle","fontSize":12},"encoding":{"x":{"datum":-2.19},"y":{"datum":14.8}}},
  {"data":{"values":[{}]},"mark":{"type":"text","text":"1 s","align":"center","baseline":"middle","fontSize":12},"encoding":{"x":{"datum":-1.25},"y":{"datum":11.0}}},
  {"data":{"values":[{}]},"mark":{"type":"text","text":"c","align":"left","baseline":"middle","fontSize":16,"fontWeight":"bold"},"encoding":{"x":{"datum":-6.6},"y":{"datum":22.3}}},
  {"data":{"values":[{}]},"mark":{"type":"text","text":"Tm1","align":"right","baseline":"middle","fontSize":16,"fontWeight":"bold","color":"#2626dc"},"encoding":{"x":{"datum":-1.0},"y":{"datum":0.4}}}
 ]},
 {"width":290,"height":30,"layer":[
  {"data":{"name":"stim_b"},"mark":{"type":"line","interpolate":"step-after","color":"#222","strokeWidth":1.5},"encoding":{"x":{"field":"t","type":"quantitative","scale":{"domain":[-7.166,21.696],"nice":false,"zero":false}},"y":{"field":"level","type":"quantitative","scale":{"domain":[-0.4615,1.846],"nice":false,"zero":false}}}},
  {"data":{"name":"stim_b"},"transform":[{"aggregate":[{"op":"count","as":"n"}],"groupby":["level"]}],"mark":{"type":"text","align":"right","baseline":"middle","fontSize":7,"dy":-1},"encoding":{"x":{"datum":-0.15},"y":{"field":"level","type":"quantitative"},"text":{"field":"level","type":"quantitative","format":"~g"}}},
  {"data":{"values":[{}]},"mark":{"type":"text","text":"Intensity","align":"right","baseline":"middle","fontSize":9.5,"fontWeight":"bold"},"encoding":{"x":{"datum":-1.37},"y":{"datum":0.62}}}
 ]},
 {"width":290,"height":152,"layer":[
  {"data":{"name":"Tm2"},"mark":{"type":"line","color":"#ea2a2a","strokeWidth":6,"opacity":0.22},"encoding":{"x":{"field":"t","type":"quantitative","scale":{"domain":[-7.166,21.696],"nice":false,"zero":false}},"y":{"field":"mV","type":"quantitative","scale":{"domain":[-9.545,25],"nice":false,"zero":false}}}},
  {"data":{"name":"Tm2"},"mark":{"type":"line","color":"#ea2a2a","strokeWidth":1.4},"encoding":{"x":{"field":"t","type":"quantitative"},"y":{"field":"mV","type":"quantitative"}}},
  {"data":{"values":[{}]},"mark":{"type":"rule","color":"#222","strokeWidth":1,"strokeDash":[1.5,1.5]},"encoding":{"x":{"datum":0},"x2":{"datum":21},"y":{"datum":0}}},
  {"data":{"values":[{}]},"mark":{"type":"text","text":"Tm2","align":"right","baseline":"middle","fontSize":16,"fontWeight":"bold","color":"#ea2a2a"},"encoding":{"x":{"datum":-0.9},"y":{"datum":0.4}}},
  {"data":{"values":[{}]},"mark":{"type":"text","text":"L2 pathway","align":"center","baseline":"middle","fontSize":18,"fontWeight":"bold","angle":270},"encoding":{"x":{"datum":-5.57},"y":{"datum":16.6}}}
 ]},
 {"width":290,"height":33,"layer":[
  {"data":{"name":"stim_b"},"mark":{"type":"line","interpolate":"step-after","color":"#222","strokeWidth":1.5},"encoding":{"x":{"field":"t","type":"quantitative","scale":{"domain":[-7.166,21.696],"nice":false,"zero":false}},"y":{"field":"level","type":"quantitative","scale":{"domain":[-0.692,1.846],"nice":false,"zero":false}}}},
  {"data":{"name":"stim_b"},"transform":[{"aggregate":[{"op":"count","as":"n"}],"groupby":["level"]}],"mark":{"type":"text","align":"right","baseline":"middle","fontSize":7,"dy":-1},"encoding":{"x":{"datum":-0.15},"y":{"field":"level","type":"quantitative"},"text":{"field":"level","type":"quantitative","format":"~g"}}},
  {"data":{"values":[{}]},"mark":{"type":"text","text":"Intensity","align":"right","baseline":"middle","fontSize":9.5,"fontWeight":"bold"},"encoding":{"x":{"datum":-1.37},"y":{"datum":0.62}}}
 ]}
]},
{"spacing":0,"bounds":"flush","vconcat":[
 {"width":150,"height":94,"layer":[
  {"data":{"name":"Mi1_low"},"mark":{"type":"line","color":"#e524c4","strokeWidth":4,"opacity":0.22},"encoding":{"x":{"field":"t","type":"quantitative","scale":{"domain":[-2.167,6.167],"nice":false,"zero":false}},"y":{"field":"mV","type":"quantitative","scale":{"domain":[-9.44,42.78],"nice":false,"zero":false}},"detail":{"field":"stim","type":"nominal"}}},
  {"data":{"name":"Mi1_low"},"transform":[{"filter":"datum.stim === 'increment'"}],"mark":{"type":"line","color":"#e524c4","strokeWidth":1.2},"encoding":{"x":{"field":"t","type":"quantitative"},"y":{"field":"mV","type":"quantitative"}}},
  {"data":{"name":"Mi1_low"},"transform":[{"filter":"datum.stim === 'decrement'"}],"mark":{"type":"line","color":"#e524c4","strokeWidth":1.2,"strokeDash":[1.5,1.2]},"encoding":{"x":{"field":"t","type":"quantitative"},"y":{"field":"mV","type":"quantitative"}}},
  {"data":{"values":[{}]},"mark":{"type":"rule","color":"#222","strokeWidth":1,"strokeDash":[1.5,1.5]},"encoding":{"x":{"datum":-0.96},"x2":{"datum":5.02},"y":{"datum":0}}},
  {"data":{"values":[{}]},"mark":{"type":"rule","color":"#000","strokeWidth":2},"encoding":{"x":{"datum":3.5},"y":{"datum":18.7},"y2":{"datum":28.9}}},
  {"data":{"values":[{}]},"mark":{"type":"rule","color":"#000","strokeWidth":2},"encoding":{"x":{"datum":3.5},"x2":{"datum":4.5},"y":{"datum":18.7}}},
  {"data":{"values":[{}]},"mark":{"type":"text","text":"10 mV","align":"right","baseline":"middle","fontSize":11},"encoding":{"x":{"datum":3.33},"y":{"datum":21.9}}},
  {"data":{"values":[{}]},"mark":{"type":"text","text":"1 s","align":"center","baseline":"middle","fontSize":11},"encoding":{"x":{"datum":4.07},"y":{"datum":15.6}}}
 ]},
 {"width":150,"height":18,"layer":[
  {"data":{"name":"step_01_05"},"transform":[{"filter":"datum.stim === 'increment'"}],"mark":{"type":"line","interpolate":"step-after","color":"#222","strokeWidth":1.2},"encoding":{"x":{"field":"t","type":"quantitative","scale":{"domain":[-2.167,6.167],"nice":false,"zero":false}},"y":{"field":"level","type":"quantitative","scale":{"domain":[-0.243,0.786],"nice":false,"zero":false}}}},
  {"data":{"name":"step_01_05"},"transform":[{"filter":"datum.stim === 'decrement'"}],"mark":{"type":"line","interpolate":"step-after","color":"#222","strokeWidth":1.2,"strokeDash":[3,2]},"encoding":{"x":{"field":"t","type":"quantitative"},"y":{"field":"level","type":"quantitative"}}},
  {"data":{"name":"step_01_05"},"transform":[{"aggregate":[{"op":"count","as":"n"}],"groupby":["level"]}],"mark":{"type":"text","align":"right","baseline":"middle","fontSize":7},"encoding":{"x":{"datum":-1.12},"y":{"field":"level","type":"quantitative"},"text":{"field":"level","type":"quantitative","format":"~g"}}}
 ]},
 {"width":150,"height":68,"layer":[
  {"data":{"name":"Mi1_high"},"mark":{"type":"line","color":"#e524c4","strokeWidth":4,"opacity":0.22},"encoding":{"x":{"field":"t","type":"quantitative","scale":{"domain":[-2.167,6.167],"nice":false,"zero":false}},"y":{"field":"mV","type":"quantitative","scale":{"domain":[-13.33,24.44],"nice":false,"zero":false}},"detail":{"field":"stim","type":"nominal"}}},
  {"data":{"name":"Mi1_high"},"transform":[{"filter":"datum.stim === 'increment'"}],"mark":{"type":"line","color":"#e524c4","strokeWidth":1.2},"encoding":{"x":{"field":"t","type":"quantitative"},"y":{"field":"mV","type":"quantitative"}}},
  {"data":{"name":"Mi1_high"},"transform":[{"filter":"datum.stim === 'decrement'"}],"mark":{"type":"line","color":"#e524c4","strokeWidth":1.2,"strokeDash":[1.5,1.2]},"encoding":{"x":{"field":"t","type":"quantitative"},"y":{"field":"mV","type":"quantitative"}}},
  {"data":{"values":[{}]},"mark":{"type":"rule","color":"#222","strokeWidth":1,"strokeDash":[1.5,1.5]},"encoding":{"x":{"datum":-0.96},"x2":{"datum":5.02},"y":{"datum":0}}}
 ]},
 {"width":150,"height":14,"layer":[
  {"data":{"name":"step_05_09"},"transform":[{"filter":"datum.stim === 'increment'"}],"mark":{"type":"line","interpolate":"step-after","color":"#222","strokeWidth":1.2},"encoding":{"x":{"field":"t","type":"quantitative","scale":{"domain":[-2.167,6.167],"nice":false,"zero":false}},"y":{"field":"level","type":"quantitative","scale":{"domain":[0.1667,1.1],"nice":false,"zero":false}}}},
  {"data":{"name":"step_05_09"},"transform":[{"filter":"datum.stim === 'decrement'"}],"mark":{"type":"line","interpolate":"step-after","color":"#222","strokeWidth":1.2,"strokeDash":[3,2]},"encoding":{"x":{"field":"t","type":"quantitative"},"y":{"field":"level","type":"quantitative"}}},
  {"data":{"name":"step_05_09"},"transform":[{"aggregate":[{"op":"count","as":"n"}],"groupby":["level"]}],"mark":{"type":"text","align":"right","baseline":"middle","fontSize":7},"encoding":{"x":{"datum":-1.12},"y":{"field":"level","type":"quantitative"},"text":{"field":"level","type":"quantitative","format":"~g"}}}
 ]},
 {"width":150,"height":81,"layer":[
  {"data":{"name":"Tm3_low"},"mark":{"type":"line","color":"#2ec62e","strokeWidth":4,"opacity":0.22},"encoding":{"x":{"field":"t","type":"quantitative","scale":{"domain":[-2.167,6.167],"nice":false,"zero":false}},"y":{"field":"mV","type":"quantitative","scale":{"domain":[-12.22,32.78],"nice":false,"zero":false}},"detail":{"field":"stim","type":"nominal"}}},
  {"data":{"name":"Tm3_low"},"transform":[{"filter":"datum.stim === 'increment'"}],"mark":{"type":"line","color":"#2ec62e","strokeWidth":1.2},"encoding":{"x":{"field":"t","type":"quantitative"},"y":{"field":"mV","type":"quantitative"}}},
  {"data":{"name":"Tm3_low"},"transform":[{"filter":"datum.stim === 'decrement'"}],"mark":{"type":"line","color":"#2ec62e","strokeWidth":1.2,"strokeDash":[1.5,1.2]},"encoding":{"x":{"field":"t","type":"quantitative"},"y":{"field":"mV","type":"quantitative"}}},
  {"data":{"values":[{}]},"mark":{"type":"rule","color":"#222","strokeWidth":1,"strokeDash":[1.5,1.5]},"encoding":{"x":{"datum":-0.96},"x2":{"datum":5.02},"y":{"datum":0}}}
 ]},
 {"width":150,"height":15,"layer":[
  {"data":{"name":"step_01_05"},"transform":[{"filter":"datum.stim === 'increment'"}],"mark":{"type":"line","interpolate":"step-after","color":"#222","strokeWidth":1.2},"encoding":{"x":{"field":"t","type":"quantitative","scale":{"domain":[-2.167,6.167],"nice":false,"zero":false}},"y":{"field":"level","type":"quantitative","scale":{"domain":[-0.3,0.7],"nice":false,"zero":false}}}},
  {"data":{"name":"step_01_05"},"transform":[{"filter":"datum.stim === 'decrement'"}],"mark":{"type":"line","interpolate":"step-after","color":"#222","strokeWidth":1.2,"strokeDash":[3,2]},"encoding":{"x":{"field":"t","type":"quantitative"},"y":{"field":"level","type":"quantitative"}}},
  {"data":{"name":"step_01_05"},"transform":[{"aggregate":[{"op":"count","as":"n"}],"groupby":["level"]}],"mark":{"type":"text","align":"right","baseline":"middle","fontSize":7},"encoding":{"x":{"datum":-1.12},"y":{"field":"level","type":"quantitative"},"text":{"field":"level","type":"quantitative","format":"~g"}}}
 ]},
 {"width":150,"height":70,"layer":[
  {"data":{"name":"Tm3_high"},"mark":{"type":"line","color":"#2ec62e","strokeWidth":4,"opacity":0.22},"encoding":{"x":{"field":"t","type":"quantitative","scale":{"domain":[-2.167,6.167],"nice":false,"zero":false}},"y":{"field":"mV","type":"quantitative","scale":{"domain":[-11.67,27.22],"nice":false,"zero":false}},"detail":{"field":"stim","type":"nominal"}}},
  {"data":{"name":"Tm3_high"},"transform":[{"filter":"datum.stim === 'increment'"}],"mark":{"type":"line","color":"#2ec62e","strokeWidth":1.2},"encoding":{"x":{"field":"t","type":"quantitative"},"y":{"field":"mV","type":"quantitative"}}},
  {"data":{"name":"Tm3_high"},"transform":[{"filter":"datum.stim === 'decrement'"}],"mark":{"type":"line","color":"#2ec62e","strokeWidth":1.2,"strokeDash":[1.5,1.2]},"encoding":{"x":{"field":"t","type":"quantitative"},"y":{"field":"mV","type":"quantitative"}}},
  {"data":{"values":[{}]},"mark":{"type":"rule","color":"#222","strokeWidth":1,"strokeDash":[1.5,1.5]},"encoding":{"x":{"datum":-0.96},"x2":{"datum":5.02},"y":{"datum":0}}}
 ]},
 {"width":150,"height":12,"layer":[
  {"data":{"name":"step_05_09"},"transform":[{"filter":"datum.stim === 'increment'"}],"mark":{"type":"line","interpolate":"step-after","color":"#222","strokeWidth":1.2},"encoding":{"x":{"field":"t","type":"quantitative","scale":{"domain":[-2.167,6.167],"nice":false,"zero":false}},"y":{"field":"level","type":"quantitative","scale":{"domain":[0.3,1.1],"nice":false,"zero":false}}}},
  {"data":{"name":"step_05_09"},"transform":[{"filter":"datum.stim === 'decrement'"}],"mark":{"type":"line","interpolate":"step-after","color":"#222","strokeWidth":1.2,"strokeDash":[3,2]},"encoding":{"x":{"field":"t","type":"quantitative"},"y":{"field":"level","type":"quantitative"}}},
  {"data":{"name":"step_05_09"},"transform":[{"aggregate":[{"op":"count","as":"n"}],"groupby":["level"]}],"mark":{"type":"text","align":"right","baseline":"middle","fontSize":7},"encoding":{"x":{"datum":-1.12},"y":{"field":"level","type":"quantitative"},"text":{"field":"level","type":"quantitative","format":"~g"}}}
 ]},
 {"width":150,"height":110,"layer":[
  {"data":{"name":"Tm1_low"},"mark":{"type":"line","color":"#2626dc","strokeWidth":4,"opacity":0.22},"encoding":{"x":{"field":"t","type":"quantitative","scale":{"domain":[-2.167,6.167],"nice":false,"zero":false}},"y":{"field":"mV","type":"quantitative","scale":{"domain":[-9.09,40.91],"nice":false,"zero":false}},"detail":{"field":"stim","type":"nominal"}}},
  {"data":{"name":"Tm1_low"},"transform":[{"filter":"datum.stim === 'increment'"}],"mark":{"type":"line","color":"#2626dc","strokeWidth":1.2},"encoding":{"x":{"field":"t","type":"quantitative"},"y":{"field":"mV","type":"quantitative"}}},
  {"data":{"name":"Tm1_low"},"transform":[{"filter":"datum.stim === 'decrement'"}],"mark":{"type":"line","color":"#2626dc","strokeWidth":1.2,"strokeDash":[1.5,1.2]},"encoding":{"x":{"field":"t","type":"quantitative"},"y":{"field":"mV","type":"quantitative"}}},
  {"data":{"values":[{}]},"mark":{"type":"rule","color":"#222","strokeWidth":1,"strokeDash":[1.5,1.5]},"encoding":{"x":{"datum":-0.96},"x2":{"datum":5.02},"y":{"datum":0}}},
  {"data":{"values":[{}]},"mark":{"type":"rule","color":"#000","strokeWidth":2},"encoding":{"x":{"datum":3.5},"y":{"datum":12.3},"y2":{"datum":22.3}}},
  {"data":{"values":[{}]},"mark":{"type":"rule","color":"#000","strokeWidth":2},"encoding":{"x":{"datum":3.5},"x2":{"datum":4.5},"y":{"datum":12.3}}},
  {"data":{"values":[{}]},"mark":{"type":"text","text":"10 mV","align":"right","baseline":"middle","fontSize":11},"encoding":{"x":{"datum":3.33},"y":{"datum":16.4}}},
  {"data":{"values":[{}]},"mark":{"type":"text","text":"1 s","align":"center","baseline":"middle","fontSize":11},"encoding":{"x":{"datum":4.07},"y":{"datum":10.0}}}
 ]},
 {"width":150,"height":18,"layer":[
  {"data":{"name":"step_0_05"},"transform":[{"filter":"datum.stim === 'increment'"}],"mark":{"type":"line","interpolate":"step-after","color":"#222","strokeWidth":1.2},"encoding":{"x":{"field":"t","type":"quantitative","scale":{"domain":[-2.167,6.167],"nice":false,"zero":false}},"y":{"field":"level","type":"quantitative","scale":{"domain":[-0.357,0.9286],"nice":false,"zero":false}}}},
  {"data":{"name":"step_0_05"},"transform":[{"filter":"datum.stim === 'decrement'"}],"mark":{"type":"line","interpolate":"step-after","color":"#222","strokeWidth":1.2,"strokeDash":[3,2]},"encoding":{"x":{"field":"t","type":"quantitative"},"y":{"field":"level","type":"quantitative"}}},
  {"data":{"name":"step_0_05"},"transform":[{"aggregate":[{"op":"count","as":"n"}],"groupby":["level"]}],"mark":{"type":"text","align":"right","baseline":"middle","fontSize":7},"encoding":{"x":{"datum":-1.12},"y":{"field":"level","type":"quantitative"},"text":{"field":"level","type":"quantitative","format":"~g"}}}
 ]},
 {"width":150,"height":65,"layer":[
  {"data":{"name":"Tm1_high"},"mark":{"type":"line","color":"#2626dc","strokeWidth":4,"opacity":0.22},"encoding":{"x":{"field":"t","type":"quantitative","scale":{"domain":[-2.167,6.167],"nice":false,"zero":false}},"y":{"field":"mV","type":"quantitative","scale":{"domain":[-8.64,20.91],"nice":false,"zero":false}},"detail":{"field":"stim","type":"nominal"}}},
  {"data":{"name":"Tm1_high"},"transform":[{"filter":"datum.stim === 'increment'"}],"mark":{"type":"line","color":"#2626dc","strokeWidth":1.2},"encoding":{"x":{"field":"t","type":"quantitative"},"y":{"field":"mV","type":"quantitative"}}},
  {"data":{"name":"Tm1_high"},"transform":[{"filter":"datum.stim === 'decrement'"}],"mark":{"type":"line","color":"#2626dc","strokeWidth":1.2,"strokeDash":[1.5,1.2]},"encoding":{"x":{"field":"t","type":"quantitative"},"y":{"field":"mV","type":"quantitative"}}},
  {"data":{"values":[{}]},"mark":{"type":"rule","color":"#222","strokeWidth":1,"strokeDash":[1.5,1.5]},"encoding":{"x":{"datum":-0.96},"x2":{"datum":5.02},"y":{"datum":0}}}
 ]},
 {"width":150,"height":20,"layer":[
  {"data":{"name":"step_05_1"},"transform":[{"filter":"datum.stim === 'increment'"}],"mark":{"type":"line","interpolate":"step-after","color":"#222","strokeWidth":1.2},"encoding":{"x":{"field":"t","type":"quantitative","scale":{"domain":[-2.167,6.167],"nice":false,"zero":false}},"y":{"field":"level","type":"quantitative","scale":{"domain":[0.143,1.571],"nice":false,"zero":false}}}},
  {"data":{"name":"step_05_1"},"transform":[{"filter":"datum.stim === 'decrement'"}],"mark":{"type":"line","interpolate":"step-after","color":"#222","strokeWidth":1.2,"strokeDash":[3,2]},"encoding":{"x":{"field":"t","type":"quantitative"},"y":{"field":"level","type":"quantitative"}}},
  {"data":{"name":"step_05_1"},"transform":[{"aggregate":[{"op":"count","as":"n"}],"groupby":["level"]}],"mark":{"type":"text","align":"right","baseline":"middle","fontSize":7},"encoding":{"x":{"datum":-1.12},"y":{"field":"level","type":"quantitative"},"text":{"field":"level","type":"quantitative","format":"~g"}}}
 ]},
 {"width":150,"height":78,"layer":[
  {"data":{"name":"Tm2_low"},"mark":{"type":"line","color":"#ea2a2a","strokeWidth":4,"opacity":0.22},"encoding":{"x":{"field":"t","type":"quantitative","scale":{"domain":[-2.167,6.167],"nice":false,"zero":false}},"y":{"field":"mV","type":"quantitative","scale":{"domain":[-9.09,26.36],"nice":false,"zero":false}},"detail":{"field":"stim","type":"nominal"}}},
  {"data":{"name":"Tm2_low"},"transform":[{"filter":"datum.stim === 'increment'"}],"mark":{"type":"line","color":"#ea2a2a","strokeWidth":1.2},"encoding":{"x":{"field":"t","type":"quantitative"},"y":{"field":"mV","type":"quantitative"}}},
  {"data":{"name":"Tm2_low"},"transform":[{"filter":"datum.stim === 'decrement'"}],"mark":{"type":"line","color":"#ea2a2a","strokeWidth":1.2,"strokeDash":[1.5,1.2]},"encoding":{"x":{"field":"t","type":"quantitative"},"y":{"field":"mV","type":"quantitative"}}},
  {"data":{"values":[{}]},"mark":{"type":"rule","color":"#222","strokeWidth":1,"strokeDash":[1.5,1.5]},"encoding":{"x":{"datum":-0.96},"x2":{"datum":5.02},"y":{"datum":0}}}
 ]},
 {"width":150,"height":17,"layer":[
  {"data":{"name":"step_0_05"},"transform":[{"filter":"datum.stim === 'increment'"}],"mark":{"type":"line","interpolate":"step-after","color":"#222","strokeWidth":1.2},"encoding":{"x":{"field":"t","type":"quantitative","scale":{"domain":[-2.167,6.167],"nice":false,"zero":false}},"y":{"field":"level","type":"quantitative","scale":{"domain":[-0.2857,0.9286],"nice":false,"zero":false}}}},
  {"data":{"name":"step_0_05"},"transform":[{"filter":"datum.stim === 'decrement'"}],"mark":{"type":"line","interpolate":"step-after","color":"#222","strokeWidth":1.2,"strokeDash":[3,2]},"encoding":{"x":{"field":"t","type":"quantitative"},"y":{"field":"level","type":"quantitative"}}},
  {"data":{"name":"step_0_05"},"transform":[{"aggregate":[{"op":"count","as":"n"}],"groupby":["level"]}],"mark":{"type":"text","align":"right","baseline":"middle","fontSize":7},"encoding":{"x":{"datum":-1.12},"y":{"field":"level","type":"quantitative"},"text":{"field":"level","type":"quantitative","format":"~g"}}}
 ]},
 {"width":150,"height":68,"layer":[
  {"data":{"name":"Tm2_high"},"mark":{"type":"line","color":"#ea2a2a","strokeWidth":4,"opacity":0.22},"encoding":{"x":{"field":"t","type":"quantitative","scale":{"domain":[-2.167,6.167],"nice":false,"zero":false}},"y":{"field":"mV","type":"quantitative","scale":{"domain":[-8.64,22.27],"nice":false,"zero":false}},"detail":{"field":"stim","type":"nominal"}}},
  {"data":{"name":"Tm2_high"},"transform":[{"filter":"datum.stim === 'increment'"}],"mark":{"type":"line","color":"#ea2a2a","strokeWidth":1.2},"encoding":{"x":{"field":"t","type":"quantitative"},"y":{"field":"mV","type":"quantitative"}}},
  {"data":{"name":"Tm2_high"},"transform":[{"filter":"datum.stim === 'decrement'"}],"mark":{"type":"line","color":"#ea2a2a","strokeWidth":1.2,"strokeDash":[1.5,1.2]},"encoding":{"x":{"field":"t","type":"quantitative"},"y":{"field":"mV","type":"quantitative"}}},
  {"data":{"values":[{}]},"mark":{"type":"rule","color":"#222","strokeWidth":1,"strokeDash":[1.5,1.5]},"encoding":{"x":{"datum":-0.96},"x2":{"datum":5.02},"y":{"datum":0}}}
 ]},
 {"width":150,"height":22,"layer":[
  {"data":{"name":"step_05_1"},"transform":[{"filter":"datum.stim === 'increment'"}],"mark":{"type":"line","interpolate":"step-after","color":"#222","strokeWidth":1.2},"encoding":{"x":{"field":"t","type":"quantitative","scale":{"domain":[-2.167,6.167],"nice":false,"zero":false}},"y":{"field":"level","type":"quantitative","scale":{"domain":[-0.143,1.4286],"nice":false,"zero":false}}}},
  {"data":{"name":"step_05_1"},"transform":[{"filter":"datum.stim === 'decrement'"}],"mark":{"type":"line","interpolate":"step-after","color":"#222","strokeWidth":1.2,"strokeDash":[3,2]},"encoding":{"x":{"field":"t","type":"quantitative"},"y":{"field":"level","type":"quantitative"}}},
  {"data":{"name":"step_05_1"},"transform":[{"aggregate":[{"op":"count","as":"n"}],"groupby":["level"]}],"mark":{"type":"text","align":"right","baseline":"middle","fontSize":7},"encoding":{"x":{"datum":-1.12},"y":{"field":"level","type":"quantitative"},"text":{"field":"level","type":"quantitative","format":"~g"}}}
 ]}
]},
{"spacing":0,"bounds":"flush","vconcat":[
 {"width":209,"height":262,"layer":[
  {"data":{"values":[{}]},"mark":{"type":"rule","color":"#111","strokeWidth":1.3},"encoding":{"x":{"datum":0.6425,"scale":{"domain":[-0.1752,4.708],"nice":false,"zero":false}},"y":{"datum":-12.3,"scale":{"domain":[-17.42,151.6],"nice":false,"zero":false}},"y2":{"datum":49.7}}},
  {"data":{"values":[{"tick":0},{"tick":20},{"tick":40}]},"mark":{"type":"rule","color":"#111","strokeWidth":1.3},"encoding":{"x":{"datum":0.549},"x2":{"datum":0.6425},"y":{"field":"tick","type":"quantitative"}}},
  {"data":{"values":[{"tick":0},{"tick":20},{"tick":40}]},"mark":{"type":"text","align":"right","baseline":"middle","fontSize":10.5},"encoding":{"x":{"datum":0.51},"y":{"field":"tick","type":"quantitative"},"text":{"field":"tick","type":"quantitative"}}},
  {"data":{"values":[{}]},"mark":{"type":"rule","color":"#444","strokeWidth":1,"strokeDash":[1.5,1.5]},"encoding":{"x":{"datum":0.736},"x2":{"datum":4.45},"y":{"datum":0}}},
  {"data":{"name":"tonic_L1"},"transform":[{"filter":"datum.cell === 'Mi1'"}],"layer":[
   {"mark":{"type":"rule","color":"#e524c4","strokeWidth":2.4,"xOffset":-2},"encoding":{"x":{"field":"cond","type":"quantitative"},"y":{"field":"lo","type":"quantitative"},"y2":{"field":"hi"}}},
   {"mark":{"type":"tick","orient":"horizontal","color":"#e524c4","size":5,"thickness":1.8,"opacity":1,"xOffset":-2},"encoding":{"x":{"field":"cond","type":"quantitative"},"y":{"field":"lo","type":"quantitative"}}},
   {"mark":{"type":"tick","orient":"horizontal","color":"#e524c4","size":5,"thickness":1.8,"opacity":1,"xOffset":-2},"encoding":{"x":{"field":"cond","type":"quantitative"},"y":{"field":"hi","type":"quantitative"}}},
   {"mark":{"type":"square","color":"#e524c4","size":34,"filled":true,"opacity":1,"xOffset":-2},"encoding":{"x":{"field":"cond","type":"quantitative"},"y":{"field":"mean","type":"quantitative"}}}
  ]},
  {"data":{"name":"tonic_L1"},"transform":[{"filter":"datum.cell === 'Tm3'"}],"layer":[
   {"mark":{"type":"rule","color":"#2ec62e","strokeWidth":2.4,"xOffset":2},"encoding":{"x":{"field":"cond","type":"quantitative"},"y":{"field":"lo","type":"quantitative"},"y2":{"field":"hi"}}},
   {"mark":{"type":"tick","orient":"horizontal","color":"#2ec62e","size":5,"thickness":1.8,"opacity":1,"xOffset":2},"encoding":{"x":{"field":"cond","type":"quantitative"},"y":{"field":"lo","type":"quantitative"}}},
   {"mark":{"type":"tick","orient":"horizontal","color":"#2ec62e","size":5,"thickness":1.8,"opacity":1,"xOffset":2},"encoding":{"x":{"field":"cond","type":"quantitative"},"y":{"field":"hi","type":"quantitative"}}},
   {"mark":{"type":"square","color":"#2ec62e","size":34,"filled":true,"opacity":1,"xOffset":2},"encoding":{"x":{"field":"cond","type":"quantitative"},"y":{"field":"mean","type":"quantitative"}}},
   {"transform":[{"filter":"isValid(datum.sig_at)"}],"mark":{"type":"text","text":"x","fontSize":9,"align":"center","baseline":"middle","xOffset":7.5},"encoding":{"x":{"field":"cond","type":"quantitative"},"y":{"field":"sig_at","type":"quantitative"}}}
  ]},
  {"data":{"values":[{}]},"mark":{"type":"text","text":"b","align":"left","baseline":"middle","fontSize":16,"fontWeight":"bold"},"encoding":{"x":{"datum":-0.152},"y":{"datum":143.5}}},
  {"data":{"values":[{}]},"mark":{"type":"text","text":"Tonic component","align":"center","baseline":"middle","fontSize":17,"fontWeight":"bold"},"encoding":{"x":{"datum":2.364},"y":{"datum":93.5}}},
  {"data":{"values":[{}]},"mark":{"type":"text","text":["Brightness","increment"],"align":"center","baseline":"middle","fontSize":12.5,"lineHeight":13},"encoding":{"x":{"datum":1.451},"y":{"datum":65}}},
  {"data":{"values":[{}]},"mark":{"type":"text","text":["Brightness","decrement"],"align":"center","baseline":"middle","fontSize":12.5,"lineHeight":13},"encoding":{"x":{"datum":3.533},"y":{"datum":65}}},
  {"data":{"values":[{}]},"mark":{"type":"text","text":"% of peak response","align":"center","baseline":"middle","fontSize":11.5,"angle":270},"encoding":{"x":{"datum":-0.012},"y":{"datum":22.6}}}
 ]},
 {"width":209,"height":28,"layer":[
  {"data":{"name":"stim_a"},"mark":{"type":"line","interpolate":"step-after","color":"#222","strokeWidth":1.5},"encoding":{"x":{"field":"t","type":"quantitative","scale":{"domain":[-3.519,21.84],"nice":false,"zero":false}},"y":{"field":"level","type":"quantitative","scale":{"domain":[-0.2,1.2],"nice":false,"zero":false}}}},
  {"data":{"name":"stim_a"},"transform":[{"aggregate":[{"op":"count","as":"n"}],"groupby":["level"]}],"mark":{"type":"text","align":"right","baseline":"middle","fontSize":7},"encoding":{"x":{"datum":-0.5},"y":{"field":"level","type":"quantitative"},"text":{"field":"level","type":"quantitative","format":"~g"}}}
 ]},
 {"width":209,"height":372,"layer":[
  {"data":{"values":[{}]},"mark":{"type":"rule","color":"#111","strokeWidth":1.3},"encoding":{"x":{"datum":0.4167,"scale":{"domain":[-0.441,4.681],"nice":false,"zero":false}},"y":{"datum":-20.8,"scale":{"domain":[-24.26,134.04],"nice":false,"zero":false}},"y2":{"datum":20}}},
  {"data":{"values":[{"tick":-20},{"tick":0},{"tick":20}]},"mark":{"type":"rule","color":"#111","strokeWidth":1.3},"encoding":{"x":{"datum":0.3187},"x2":{"datum":0.4167},"y":{"field":"tick","type":"quantitative"}}},
  {"data":{"values":[{"tick":-20},{"tick":0},{"tick":20}]},"mark":{"type":"text","align":"right","baseline":"middle","fontSize":10.5},"encoding":{"x":{"datum":0.27},"y":{"field":"tick","type":"quantitative"},"text":{"field":"tick","type":"quantitative"}}},
  {"data":{"values":[{}]},"mark":{"type":"rule","color":"#444","strokeWidth":1,"strokeDash":[1.5,1.5]},"encoding":{"x":{"datum":0.515},"x2":{"datum":4.41},"y":{"datum":0}}},
  {"data":{"name":"tonic_L2"},"transform":[{"filter":"datum.cell === 'Tm1'"}],"layer":[
   {"mark":{"type":"rule","color":"#2626dc","strokeWidth":2.4,"xOffset":-2},"encoding":{"x":{"field":"cond","type":"quantitative"},"y":{"field":"lo","type":"quantitative"},"y2":{"field":"hi"}}},
   {"mark":{"type":"tick","orient":"horizontal","color":"#2626dc","size":5,"thickness":1.8,"opacity":1,"xOffset":-2},"encoding":{"x":{"field":"cond","type":"quantitative"},"y":{"field":"lo","type":"quantitative"}}},
   {"mark":{"type":"tick","orient":"horizontal","color":"#2626dc","size":5,"thickness":1.8,"opacity":1,"xOffset":-2},"encoding":{"x":{"field":"cond","type":"quantitative"},"y":{"field":"hi","type":"quantitative"}}},
   {"mark":{"type":"square","color":"#2626dc","size":34,"filled":true,"opacity":1,"xOffset":-2},"encoding":{"x":{"field":"cond","type":"quantitative"},"y":{"field":"mean","type":"quantitative"}}},
   {"transform":[{"filter":"isValid(datum.sig_at)"}],"mark":{"type":"text","text":"x","fontSize":9,"align":"center","baseline":"middle","xOffset":3},"encoding":{"x":{"field":"cond","type":"quantitative"},"y":{"field":"sig_at","type":"quantitative"}}}
  ]},
  {"data":{"name":"tonic_L2"},"transform":[{"filter":"datum.cell === 'Tm2'"}],"layer":[
   {"mark":{"type":"rule","color":"#ea2a2a","strokeWidth":2.4,"xOffset":2},"encoding":{"x":{"field":"cond","type":"quantitative"},"y":{"field":"lo","type":"quantitative"},"y2":{"field":"hi"}}},
   {"mark":{"type":"tick","orient":"horizontal","color":"#ea2a2a","size":5,"thickness":1.8,"opacity":1,"xOffset":2},"encoding":{"x":{"field":"cond","type":"quantitative"},"y":{"field":"lo","type":"quantitative"}}},
   {"mark":{"type":"tick","orient":"horizontal","color":"#ea2a2a","size":5,"thickness":1.8,"opacity":1,"xOffset":2},"encoding":{"x":{"field":"cond","type":"quantitative"},"y":{"field":"hi","type":"quantitative"}}},
   {"mark":{"type":"square","color":"#ea2a2a","size":34,"filled":true,"opacity":1,"xOffset":2},"encoding":{"x":{"field":"cond","type":"quantitative"},"y":{"field":"mean","type":"quantitative"}}},
   {"transform":[{"filter":"isValid(datum.sig_at)"}],"mark":{"type":"text","text":"x","fontSize":9,"align":"center","baseline":"middle","xOffset":8},"encoding":{"x":{"field":"cond","type":"quantitative"},"y":{"field":"sig_at","type":"quantitative"}}}
  ]},
  {"data":{"values":[{}]},"mark":{"type":"text","text":"d","align":"left","baseline":"middle","fontSize":16,"fontWeight":"bold"},"encoding":{"x":{"datum":-0.417},"y":{"datum":80.4}}},
  {"data":{"values":[{}]},"mark":{"type":"text","text":"Tonic component","align":"center","baseline":"middle","fontSize":17,"fontWeight":"bold"},"encoding":{"x":{"datum":2.287},"y":{"datum":47.5}}},
  {"data":{"values":[{}]},"mark":{"type":"text","text":["Brightness","increment"],"align":"center","baseline":"middle","fontSize":12.5,"lineHeight":13},"encoding":{"x":{"datum":1.262},"y":{"datum":31.3}}},
  {"data":{"values":[{}]},"mark":{"type":"text","text":["Brightness","decrement"],"align":"center","baseline":"middle","fontSize":12.5,"lineHeight":13},"encoding":{"x":{"datum":3.439},"y":{"datum":31.3}}},
  {"data":{"values":[{}]},"mark":{"type":"text","text":"% of peak response","align":"center","baseline":"middle","fontSize":11.5,"angle":270},"encoding":{"x":{"datum":-0.27},"y":{"datum":0.4}}}
 ]},
 {"width":209,"height":28,"layer":[
  {"data":{"name":"stim_b"},"mark":{"type":"line","interpolate":"step-after","color":"#222","strokeWidth":1.5},"encoding":{"x":{"field":"t","type":"quantitative","scale":{"domain":[-3.519,21.84],"nice":false,"zero":false}},"y":{"field":"level","type":"quantitative","scale":{"domain":[-0.353,1.294],"nice":false,"zero":false}}}},
  {"data":{"name":"stim_b"},"transform":[{"aggregate":[{"op":"count","as":"n"}],"groupby":["level"]}],"mark":{"type":"text","align":"right","baseline":"middle","fontSize":7},"encoding":{"x":{"datum":-0.5},"y":{"field":"level","type":"quantitative"},"text":{"field":"level","type":"quantitative","format":"~g"}}}
 ]}
]}
]
}
